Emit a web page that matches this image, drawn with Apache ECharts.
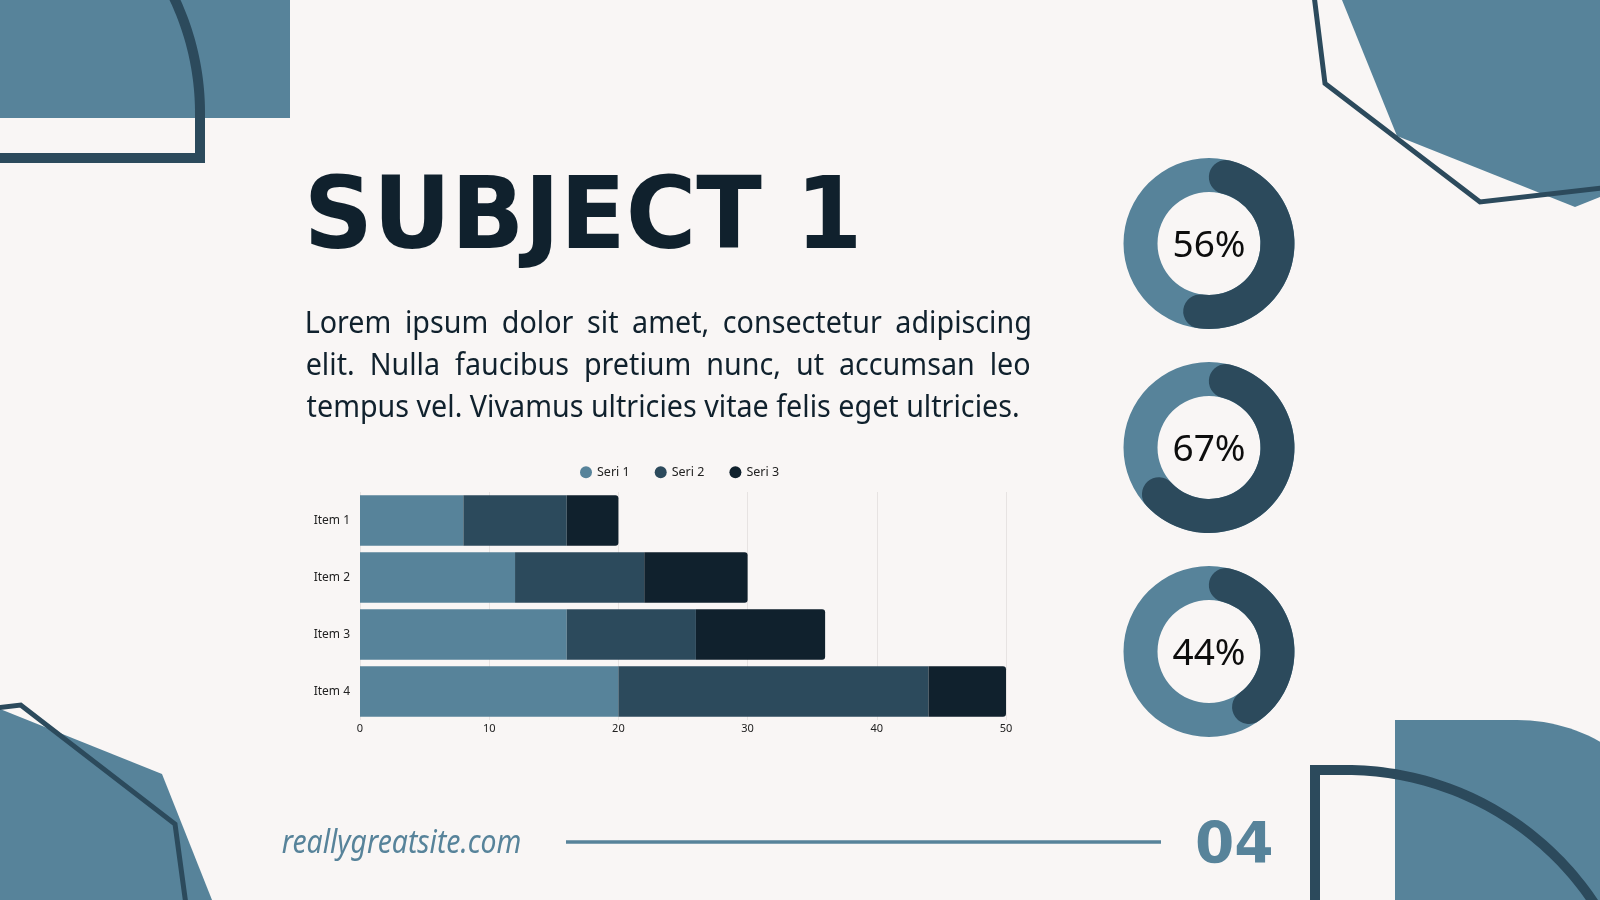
<!DOCTYPE html>
<html>
<head>
<meta charset="utf-8">
<script src="https://cdn.jsdelivr.net/npm/echarts@6/dist/echarts.min.js"></script>
<style>
  html, body { margin: 0; padding: 0; background: #f9f6f5; }
  #chart { width: 1600px; height: 900px; }
</style>
</head>
<body>
<div id="chart"></div>
<script>
// ---- data ----
const categories = ['Item 1', 'Item 2', 'Item 3', 'Item 4'];
const seriesNames = ['Seri 1', 'Seri 2', 'Seri 3'];
const seri1 = [8, 12, 16, 20];
const seri2 = [8, 10, 10, 24];
const seri3 = [4, 8, 10, 6];
const donutValues = [56, 67, 44];
const titleText = 'SUBJECT 1';
const paragraphLines = [
  'Lorem ipsum dolor sit amet, consectetur adipiscing',
  'elit. Nulla faucibus pretium nunc, ut accumsan leo',
  'tempus vel. Vivamus ultricies vitae felis eget ultricies.'
];
const footerText = 'reallygreatsite.com';
const pageText = '04';

// ---- colours ----
const C_LIGHT = '#57839a';
const C_DARK = '#2c4a5c';
const C_DARKEST = '#10212d';
const BG = '#f9f6f5';

// ---- text measuring helpers ----
const mctx = document.createElement('canvas').getContext('2d');
function fontStr(f) {
  return (f.fontStyle || 'normal') + ' ' + (f.fontWeight || 'normal') + ' ' + f.fontSize + 'px ' + f.fontFamily;
}
function measure(text, f) {
  mctx.font = fontStr(f);
  mctx.textBaseline = 'alphabetic';
  return mctx.measureText(text);
}
function midShift(f) {
  mctx.font = fontStr(f);
  mctx.textBaseline = 'alphabetic';
  const a = mctx.measureText('H').actualBoundingBoxAscent;
  mctx.textBaseline = 'middle';
  const b = mctx.measureText('H').actualBoundingBoxAscent;
  mctx.textBaseline = 'alphabetic';
  return a - b;
}
function textEl(text, f, x, baseline, scaleX, fill) {
  return {
    type: 'text', x: x, y: baseline - midShift(f), scaleX: scaleX, scaleY: 1,
    style: {
      text: text, fontSize: f.fontSize, fontFamily: f.fontFamily,
      fontWeight: f.fontWeight || 'normal', fontStyle: f.fontStyle || 'normal',
      fill: fill, align: 'left', verticalAlign: 'middle'
    }
  };
}
// place a text so that its ink spans [inkL, inkR]
function fitText(text, f, inkL, inkR, baseline, fill) {
  const m = measure(text, f);
  const inkW = m.actualBoundingBoxLeft + m.actualBoundingBoxRight;
  const s = (inkR - inkL) / inkW;
  return textEl(text, f, inkL + m.actualBoundingBoxLeft * s, baseline, s, fill);
}
// points along a circular arc (decoration geometry)
function arcPts(cx, cy, r, a0, a1, n) {
  const pts = [];
  for (let i = 0; i <= n; i++) {
    const a = a0 + (a1 - a0) * i / n;
    pts.push([cx + r * Math.cos(a), cy + r * Math.sin(a)]);
  }
  return pts;
}

const graphics = [];
// top-left
graphics.push({ type: 'rect', shape: { x: 0, y: 0, width: 290, height: 118 }, style: { fill: C_LIGHT } });
graphics.push({ type: 'polyline',
  shape: { points: [[-10, 158], [200, 158]].concat(arcPts(-68, 113, 268, 0, -0.562, 40)) },
  style: { fill: 'none', stroke: C_DARK, lineWidth: 10 } });
// top-right
graphics.push({ type: 'polygon', shape: { points: [[1342, 0], [1397, 136], [1575, 207], [1600, 197], [1600, 0]] }, style: { fill: C_LIGHT } });
graphics.push({ type: 'polyline', shape: { points: [[1314, -5], [1325, 83.5], [1480, 202], [1610, 187]] },
  style: { fill: 'none', stroke: C_DARK, lineWidth: 5 } });
// bottom-left
graphics.push({ type: 'polygon', shape: { points: [[0, 709], [162, 774], [214, 905], [0, 905]] }, style: { fill: C_LIGHT } });
graphics.push({ type: 'polyline', shape: { points: [[-5, 708], [20.7, 705], [175, 824], [186, 905]] },
  style: { fill: 'none', stroke: C_DARK, lineWidth: 5 } });
// bottom-right
graphics.push({ type: 'polygon',
  shape: { points: [[1395, 905], [1395, 720]].concat(arcPts(1517, 890, 170, -Math.PI / 2, 0, 40)).concat([[1687, 905]]) },
  style: { fill: C_LIGHT } });
graphics.push({ type: 'polyline',
  shape: { points: [[1315, 910], [1315, 770]].concat(arcPts(1345.7, 1068.3, 298.3, -Math.PI / 2, -0.5796, 48)) },
  style: { fill: 'none', stroke: C_DARK, lineWidth: 10 } });
// footer rule
graphics.push({ type: 'line', shape: { x1: 566, y1: 842, x2: 1161, y2: 842 }, style: { stroke: C_LIGHT, lineWidth: 3.5 } });

// title
const titleFont = { fontSize: 100, fontFamily: '"DejaVu Sans"', fontWeight: 'bold' };
graphics.push(fitText(titleText, titleFont, 310.4, 856, 248.3, C_DARKEST));

// paragraph (justified)
const paraFont = { fontSize: 30, fontFamily: '"Noto Sans"' };
const paraLeft = 306.6, paraRight = 1029.5, lastRight = 1017.7;
const paraBase = [333, 374.8, 416.6];
(function () {
  const last = paragraphLines[2];
  const mL = measure(last, paraFont);
  const s = (lastRight - paraLeft) / (mL.actualBoundingBoxLeft + mL.actualBoundingBoxRight);
  paragraphLines.forEach(function (line, li) {
    if (li === paragraphLines.length - 1) {
      graphics.push(textEl(line, paraFont, paraLeft + mL.actualBoundingBoxLeft * s, paraBase[li], s, C_DARKEST));
      return;
    }
    const words = line.split(' ');
    const ms = words.map(function (w) { return measure(w, paraFont); });
    const xStart = paraLeft + ms[0].actualBoundingBoxLeft * s;
    const lm = ms[ms.length - 1];
    const xLast = paraRight - lm.actualBoundingBoxRight * s;
    const available = (xLast + lm.width * s) - xStart;
    let sumAdv = 0; ms.forEach(function (m) { sumAdv += m.width * s; });
    const gap = (available - sumAdv) / (words.length - 1);
    let x = xStart;
    words.forEach(function (w, i) {
      graphics.push(textEl(w, paraFont, x, paraBase[li], s, C_DARKEST));
      x += ms[i].width * s + gap;
    });
  });
})();

// footer texts
graphics.push(fitText(footerText, { fontSize: 32, fontFamily: '"Noto Sans"', fontStyle: 'italic' }, 281.7, 520.5, 853, C_LIGHT));
graphics.push(fitText(pageText, { fontSize: 57, fontFamily: '"DejaVu Sans"', fontWeight: 'bold' }, 1197, 1272, 863.3, C_LIGHT));

// ---- donuts ----
const donutCenters = [[1209, 243.5], [1209, 447.5], [1209, 651.5]];
const ringOuter = 85.5, ringWidth = 34;
// round caps sit inside the value range: shift by the cap's angular size
const capDeg = (ringWidth / 2) / (ringOuter - ringWidth / 2) * 180 / Math.PI;
const capPct = capDeg / 3.6;
const gaugeSeries = [];
donutValues.forEach(function (v, i) {
  // background ring + label
  gaugeSeries.push({
    type: 'gauge', center: donutCenters[i], radius: ringOuter,
    startAngle: 90, endAngle: -270, min: 0, max: 100,
    axisLine: { lineStyle: { width: ringWidth, color: [[1, C_LIGHT]] } },
    progress: { show: false },
    pointer: { show: false }, anchor: { show: false },
    axisTick: { show: false }, splitLine: { show: false }, axisLabel: { show: false },
    title: { show: false },
    detail: {
      offsetCenter: [0, 3], formatter: '{value}%', fontSize: 37, fontWeight: 'normal',
      fontFamily: '"Noto Sans"', color: '#0d0d0d'
    },
    data: [{ value: v }]
  });
  // value arc
  gaugeSeries.push({
    type: 'gauge', center: donutCenters[i], radius: ringOuter,
    startAngle: 90 - capDeg, endAngle: 90 - capDeg - 360, min: 0, max: 100,
    axisLine: { show: false, lineStyle: { width: ringWidth, color: [[1, 'rgba(0,0,0,0)']] } },
    progress: { show: true, width: ringWidth, roundCap: true, itemStyle: { color: C_DARK } },
    pointer: { show: false }, anchor: { show: false },
    axisTick: { show: false }, splitLine: { show: false }, axisLabel: { show: false },
    title: { show: false }, detail: { show: false },
    data: [{ value: v - 2 * capPct }]
  });
});

const barColors = [C_LIGHT, C_DARK, C_DARKEST];
const barData = [seri1, seri2, seri3];
const barSeries = seriesNames.map(function (name, i) {
  return {
    name: name, type: 'bar', stack: 'total', barCategoryGap: '11%',
    itemStyle: { color: barColors[i], borderRadius: i === 2 ? [0, 3, 3, 0] : 0 },
    data: barData[i]
  };
});

const chart = echarts.init(document.getElementById('chart'), null, { renderer: 'canvas' });
chart.setOption({
  backgroundColor: BG,
  animation: false,
  graphic: { elements: graphics },
  legend: {
    data: seriesNames, left: 580, top: 465.7, padding: 0,
    icon: 'circle', itemWidth: 12, itemHeight: 12, itemGap: 25,
    textStyle: { fontSize: 12.5, fontFamily: '"Noto Sans"', color: '#222' }
  },
  grid: { left: 360, right: 594, top: 492, bottom: 180, containLabel: false },
  xAxis: {
    type: 'value', min: 0, max: 50, interval: 10,
    axisLine: { show: false }, axisTick: { show: false },
    splitLine: { show: true, lineStyle: { color: '#e7e3e2', width: 1 } },
    axisLabel: { margin: 3, fontSize: 11, fontFamily: '"Noto Sans"', color: '#222' }
  },
  yAxis: {
    type: 'category', data: categories, inverse: true,
    axisLine: { show: false }, axisTick: { show: false }, splitLine: { show: false },
    axisLabel: { margin: 10, fontSize: 12, fontFamily: '"Noto Sans"', color: '#222' }
  },
  series: barSeries.concat(gaugeSeries)
});
</script>
</body>
</html>
